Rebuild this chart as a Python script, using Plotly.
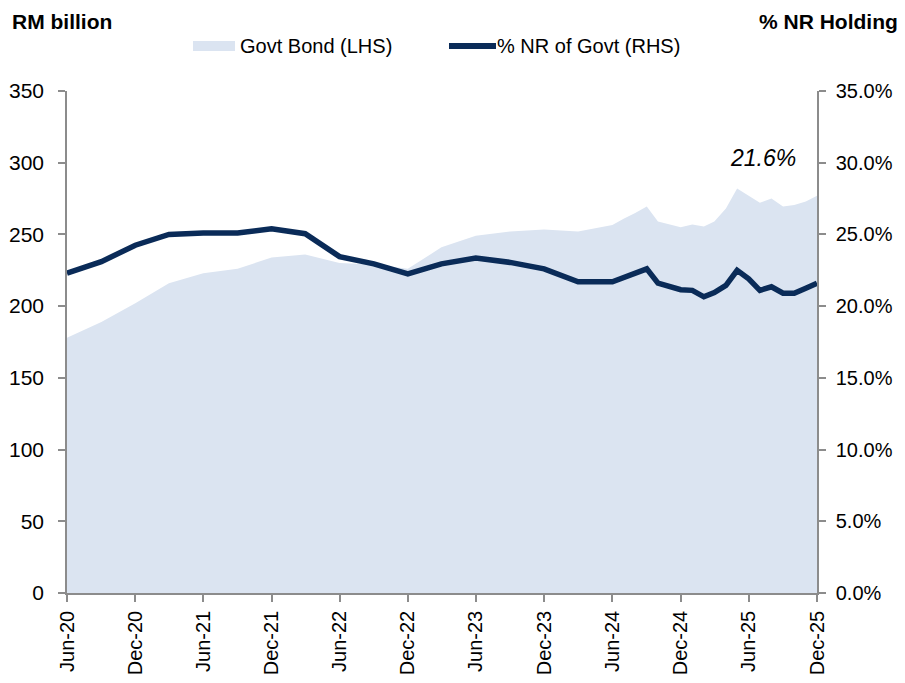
import plotly.graph_objects as go

# --- data ---
dates = [
    "2020-06-01", "2020-09-01", "2020-12-01", "2021-03-01", "2021-06-01", "2021-09-01",
    "2021-12-01", "2022-03-01", "2022-06-01", "2022-09-01", "2022-12-01", "2023-03-01",
    "2023-06-01", "2023-09-01", "2023-12-01", "2024-03-01", "2024-06-01",
    "2024-07-01", "2024-08-01", "2024-09-01", "2024-10-01", "2024-11-01", "2024-12-01",
    "2025-01-01", "2025-02-01", "2025-03-01", "2025-04-01", "2025-05-01", "2025-06-01",
    "2025-07-01", "2025-08-01", "2025-09-01", "2025-10-01", "2025-11-01", "2025-12-01",
]
govt_bond = [
    178, 189, 202, 216, 223, 226,
    234, 236, 230, 229, 226, 241,
    249, 252, 253.5, 252, 256.5,
    261, 265, 269.5, 259, 257, 255,
    257, 255.5, 259, 268, 282, 277,
    272, 275, 269.5, 270.5, 273, 277,
]
nr_pct = [
    22.3, 23.1, 24.25, 25.0, 25.1, 25.1,
    25.4, 25.05, 23.45, 22.95, 22.25, 22.95,
    23.35, 23.05, 22.6, 21.7, 21.7,
    22.0, 22.3, 22.6, 21.6, 21.35, 21.15,
    21.1, 20.65, 20.95, 21.45, 22.5, 21.9,
    21.1, 21.35, 20.9, 20.9, 21.25, 21.6,
]
tick_dates = ["2020-06-01", "2020-12-01", "2021-06-01", "2021-12-01", "2022-06-01", "2022-12-01",
              "2023-06-01", "2023-12-01", "2024-06-01", "2024-12-01", "2025-06-01", "2025-12-01"]
tick_labels = ["Jun-20", "Dec-20", "Jun-21", "Dec-21", "Jun-22", "Dec-22",
               "Jun-23", "Dec-23", "Jun-24", "Dec-24", "Jun-25", "Dec-25"]
left_ticks = [0, 50, 100, 150, 200, 250, 300, 350]
right_ticks = [0, 5, 10, 15, 20, 25, 30, 35]

AREA = "#dbe4f1"
NAVY = "#0a2b58"
AXIS = "#8c8c8c"
FONT = "Arial, Liberation Sans, sans-serif"


def axis_common(size=20, standoff=0):
    return dict(
        showgrid=False, zeroline=False, showline=True, linecolor=AXIS, linewidth=1.5,
        ticks="outside", ticklen=7, tickcolor=AXIS, tickwidth=1.5,
        ticklabelstandoff=standoff, automargin=False,
        tickfont=dict(family=FONT, size=size, color="#000"),
    )


fig = go.Figure()
fig.add_trace(go.Scatter(
    x=dates, y=govt_bond, mode="lines", fill="tozeroy",
    fillcolor=AREA, line=dict(width=0, color=AREA),
    name="Govt Bond (LHS)", showlegend=False, hoverinfo="skip",
))
fig.add_trace(go.Scatter(
    x=dates, y=nr_pct, mode="lines", yaxis="y2",
    line=dict(width=5.5, color=NAVY),
    name="% NR of Govt (RHS)", showlegend=False,
))


def px(xr):
    return (xr - 67) / 750


def py(yr):
    return (593 - yr) / 502


fig.update_layout(
    width=897, height=675,
    margin=dict(l=59, r=88, t=83, b=90),
    paper_bgcolor="white", plot_bgcolor="white",
    showlegend=False,
    xaxis=dict(
        type="date", range=["2020-06-01", "2025-12-01"],
        tickvals=tick_dates, ticktext=tick_labels, tickangle=-90,
        **axis_common(20, 1),
    ),
    yaxis=dict(
        range=[0, 350], tickvals=left_ticks, **axis_common(21, 10),
    ),
    yaxis2=dict(
        range=[0, 35], tickvals=right_ticks,
        ticktext=[f"{v:.1f}%" for v in right_ticks],
        overlaying="y", side="right", anchor="x", **axis_common(20, 6),
    ),
    shapes=[
        dict(type="rect", xref="paper", yref="paper",
             x0=px(193), x1=px(235), y0=py(51), y1=py(41),
             fillcolor=AREA, line=dict(width=0)),
        dict(type="line", xref="paper", yref="paper",
             x0=px(449), x1=px(496), y0=py(46), y1=py(46),
             line=dict(color=NAVY, width=6)),
    ],
    annotations=[
        dict(text="<b>RM billion</b>", xref="paper", yref="paper",
             x=px(11), y=py(9), xanchor="left", yanchor="top", borderpad=0,
             showarrow=False, font=dict(family=FONT, size=21, color="#000")),
        dict(text="<b>% NR Holding</b>", xref="paper", yref="paper",
             x=px(899), y=py(9), xanchor="right", yanchor="top", borderpad=0,
             showarrow=False, font=dict(family=FONT, size=21, color="#000")),
        dict(text="Govt Bond (LHS)", xref="paper", yref="paper",
             x=px(238), y=py(46), xanchor="left", yanchor="middle",
             showarrow=False, font=dict(family=FONT, size=20, color="#000")),
        dict(text="% NR of Govt (RHS)", xref="paper", yref="paper",
             x=px(495), y=py(46), xanchor="left", yanchor="middle",
             showarrow=False, font=dict(family=FONT, size=20, color="#000")),
        dict(text="<i>21.6%</i>", xref="x", yref="y",
             x="2025-07-10", y=303, xanchor="center", yanchor="middle",
             showarrow=False, font=dict(family=FONT, size=23, color="#000")),
    ],
)

fig.write_html("out.html")
